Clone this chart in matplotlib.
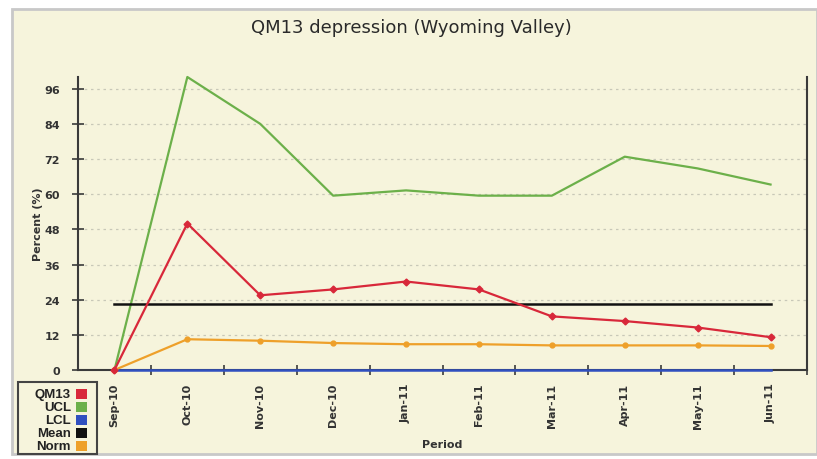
import matplotlib.pyplot as plt
from matplotlib.patches import Rectangle

periods = ["Sep-10", "Oct-10", "Nov-10", "Dec-10", "Jan-11", "Feb-11",
           "Mar-11", "Apr-11", "May-11", "Jun-11"]
qm13 = [0, 50, 25.5, 27.5, 30.2, 27.5, 18.3, 16.7, 14.5, 11.2]
ucl = [0, 100, 84, 59.5, 61.3, 59.5, 59.5, 72.8, 68.8, 63.3]
lcl = [0, 0, 0, 0, 0, 0, 0, 0, 0, 0]
mean = [22.4] * 10
norm = [0, 10.5, 10, 9.2, 8.8, 8.8, 8.4, 8.4, 8.4, 8.2]
y_ticks = [0, 12, 24, 36, 48, 60, 72, 84, 96]

legend_labels = ["QM13", "UCL", "LCL", "Mean", "Norm"]
legend_colors = ["#d8283a", "#6cb04a", "#3050c0", "#111111", "#eea02a"]

BG = "#f6f4dc"
AX_COL = "#3a3a3a"
TXT = "#333333"

fig = plt.figure(figsize=(8.17, 4.6), dpi=100, facecolor="white")
# cream panel with gray frame
fig.patches.append(Rectangle((12 / 817, 5 / 460), 805 / 817, 445 / 460,
                             transform=fig.transFigure, facecolor=BG,
                             edgecolor="#c8c8c8", linewidth=2, zorder=-5))

ax = fig.add_axes([78 / 817, 1 - 371 / 460, 729 / 817, 293 / 460])
ax.set_zorder(1)
ax.set_facecolor(BG)
x = list(range(len(periods)))

ax.plot(x, ucl, color=legend_colors[1], lw=1.6, zorder=3, clip_on=False)
ax.plot(x, lcl, color=legend_colors[2], lw=1.8, zorder=4, clip_on=False)
ax.plot(x, mean, color=legend_colors[3], lw=1.8, zorder=3)
ax.plot(x, norm, color=legend_colors[4], lw=1.6, marker="o", ms=3.5, zorder=5,
        clip_on=False)
ax.plot(x, qm13, color=legend_colors[0], lw=1.6, marker="D", ms=3.5, zorder=6,
        clip_on=False)

ax.set_xlim(-0.5, len(periods) - 0.5)
ax.set_ylim(0, 100)

ax.set_yticks(y_ticks)
ax.set_yticklabels([str(v) for v in y_ticks], fontsize=8, fontweight="bold",
                   color=TXT, family="DejaVu Sans")
ax.set_xticks(x)
ax.set_xticklabels(periods, rotation=90, fontsize=8, fontweight="bold",
                   color=TXT, family="DejaVu Sans")
ax.tick_params(axis="x", which="major", length=0, pad=9)
ax.set_xticks([i + 0.5 for i in x], minor=True)
ax.tick_params(axis="x", which="minor", direction="inout", length=7,
               color=AX_COL, width=1.2)
ax.tick_params(axis="y", direction="inout", length=8, color=AX_COL, width=1.2, pad=9)

ax.grid(axis="y", linestyle=(0, (2, 3)), color="#c8c8b8", lw=0.9, zorder=1)
ax.set_axisbelow(True)

for side in ["left", "right", "bottom"]:
    ax.spines[side].set_color(AX_COL)
    ax.spines[side].set_linewidth(1.5)
ax.spines["top"].set_visible(False)

ax.set_ylabel("Percent (%)", fontsize=8, fontweight="bold", color=TXT,
              family="DejaVu Sans", labelpad=1)
ax.set_xlabel("Period", fontsize=8, fontweight="bold", color=TXT,
              family="DejaVu Sans", labelpad=8)

fig.text(0.5 + 3 / 817, 1 - 28 / 460, "QM13 depression (Wyoming Valley)",
         ha="center", va="center", fontsize=13, color="#2a2a2a",
         family="DejaVu Sans")

# legend box, bottom left
fig.patches.append(Rectangle((18 / 817, 1 - 455 / 460), 79 / 817, 72 / 460,
                             transform=fig.transFigure, facecolor=BG,
                             edgecolor="#444444", linewidth=1.5, zorder=2))
for i, (lab, col) in enumerate(zip(legend_labels, legend_colors)):
    yy = 1 - (395 + i * 13) / 460
    fig.text(71 / 817, yy, lab, ha="right", va="center", fontsize=9.5,
             fontweight="bold", color="#222222", family="Liberation Sans", zorder=3)
    fig.patches.append(Rectangle((76 / 817, yy - 5 / 460), 11 / 817, 10 / 460,
                                 transform=fig.transFigure, facecolor=col,
                                 edgecolor="none", zorder=3))

fig.savefig("out.png", dpi=100, facecolor=fig.get_facecolor())
